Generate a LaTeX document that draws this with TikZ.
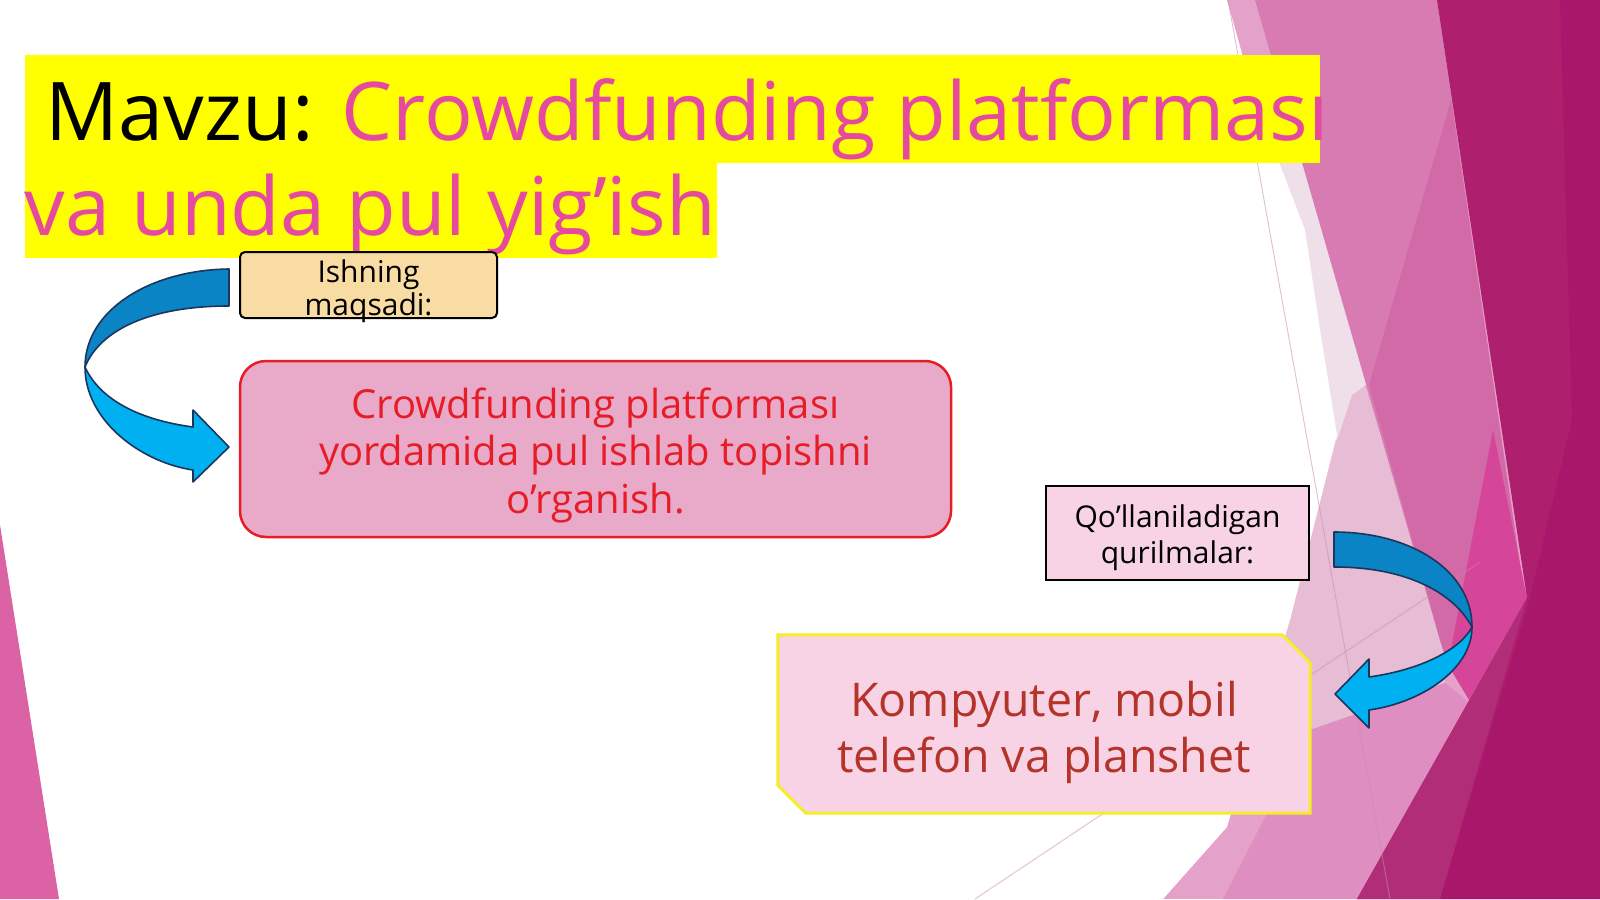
\documentclass[tikz,border=0pt]{standalone}
\usepackage{fontspec}
\setmainfont{Open Sans}
\definecolor{bgbase}{HTML}{E4A2CB}
\definecolor{bglight}{HTML}{E6BDD4}
\definecolor{bgvlight}{HTML}{EFDFE8}
\definecolor{bgmed}{HTML}{D97BB3}
\definecolor{bgsub}{HTML}{D16AA6}
\definecolor{bghot}{HTML}{D5469B}
\definecolor{bglow}{HTML}{DE8EC0}
\definecolor{bgdark}{HTML}{AE1F6E}
\definecolor{bgdarker}{HTML}{A9176B}
\definecolor{bgdm}{HTML}{B12D78}
\definecolor{leftpink}{HTML}{DC62A6}
\definecolor{faintline}{HTML}{C98AAE}
\definecolor{titleyellow}{HTML}{FFFF00}
\definecolor{titlepink}{HTML}{E64AA0}
\definecolor{ishfill}{HTML}{F9DCA4}
\definecolor{mainfill}{HTML}{E8AAC8}
\definecolor{mainred}{HTML}{E61C26}
\definecolor{qofill}{HTML}{F8D3E6}
\definecolor{kompfill}{HTML}{F8D3E5}
\definecolor{kompyellow}{HTML}{F5EC2A}
\definecolor{komptext}{HTML}{B4342A}
\definecolor{arrdark}{HTML}{0A84C4}
\definecolor{arrlight}{HTML}{00B0F0}
\definecolor{arrline}{HTML}{1B365D}
\newcommand{\myfs}[2]{\fontsize{#1}{#2}\selectfont}
\tikzset{
  boxtxt/.style={anchor=base, align=center, inner sep=0pt},
  titletxt/.style={anchor=base west, inner sep=0pt, font=\myfs{81}{94}},
  arrowdarkpart/.style={fill=arrdark, draw=arrline, line width=1.6pt, line join=round},
  arrowlightpart/.style={fill=arrlight, draw=arrline, line width=1.6pt, line join=round},
  faint/.style={draw=faintline, opacity=0.55, line width=0.9pt},
  ishbox/.style={draw=black, line width=2pt, fill=ishfill, rounded corners=5pt, inner sep=0pt},
  mainbox/.style={draw=mainred, line width=2.5pt, fill=mainfill, rounded corners=26pt, inner sep=0pt},
  qobox/.style={draw=black, line width=2.5pt, fill=qofill, inner sep=0pt},
  kompframe/.style={inner sep=0pt, draw=none},
  kompoutline/.style={draw=kompyellow, line width=3pt, fill=kompfill, line join=miter}
}
\begin{document}
\begin{tikzpicture}[x=1pt,y=-1pt]
\useasboundingbox (0,0) rectangle (1600,899);
\fill[white] (0,0) rectangle (1600,899);
% right-hand facets
\fill[bgbase] (1150,0) rectangle (1600,899);
\fill[bglight] (1290,140) -- (1445,645) -- (1445,683) -- (1310,730) -- (1200,760) -- (1200,140) -- cycle;
\fill[bgvlight] (1270,120) -- (1400,120) -- (1400,360) -- (1352,395) -- (1337,440) -- (1200,440) -- (1200,120) -- cycle;
\fill[bgmed] (1255,0) -- (1437,0) -- (1525,598) -- (1448,665) -- (1440,640) -- cycle;
\fill[bgsub] (1451,100) -- (1525,598) -- (1448,665) -- (1440,640) -- (1369,385) -- cycle;
\fill[bghot] (1493,430) -- (1527,598) -- (1469,700) -- (1448,665) -- cycle;
\fill[bglow] (1223,899) -- (1357,899) -- (1470,703) -- (1445,683) -- (1310,730) -- cycle;
\fill[bgdark] (1437,0) -- (1600,0) -- (1600,899) -- (1357,899) -- (1527,598) -- cycle;
\fill[bgdarker] (1560,0) -- (1600,0) -- (1600,899) -- (1440,899) -- (1530,598) -- (1572,420) -- cycle;
\fill[bgdm] (1527,598) -- (1357,899) -- (1440,899) -- cycle;
% white area
\fill[white] (0,0) -- (1227,0) -- (1255,100) -- (1305,230) -- (1320,330) -- (1337,435) -- (1290,620) -- (1227,827) -- (1163,899) -- (0,899) -- cycle;
% left facet
\fill[leftpink] (0,525) -- (59,899) -- (0,899) -- cycle;
% faint lines
\coordinate (fa1) at (1228,0);
\coordinate (fa2) at (1390,899);
\coordinate (fb1) at (975,899);
\coordinate (fb2) at (1480,562);
\draw[faint] (fa1) -- (fa2);
\draw[faint] (fb1) -- (fb2);
% title
\fill[titleyellow] (24.5,55) rectangle (1320,163);
\fill[titleyellow] (24.5,163) rectangle (717,258);
\node[titletxt] (title1) at (24.5,140) {\hspace*{0.26em}Mavzu: \textcolor{titlepink}{Crowdfunding platforması}};
\node[titletxt, text=titlepink] (title2) at (24.5,235) {va unda pul yig’ish};
% boxes
\node[ishbox, minimum width=257pt, minimum height=66pt] (bIsh) at (368.5,285) {};
\node[boxtxt, font=\myfs{30}{33}] (tIsh) at (368.5,315) {Ishning\\maqsadi:};
\node[mainbox, minimum width=711pt, minimum height=176pt] (bMain) at (595.5,449) {};
\node[boxtxt, text=mainred, font=\myfs{40}{47.5}] (tMain) at (595.5,513) {Crowdfunding platforması\\yordamida pul ishlab topishni\\o’rganish.};
\node[qobox, minimum width=263pt, minimum height=94pt] (bQo) at (1177.5,533) {};
\node[boxtxt, font=\myfs{30}{35.5}] (tQo) at (1177.5,563) {Qo’llaniladigan\\qurilmalar:};
\node[kompframe, minimum width=532pt, minimum height=178pt] (bKomp) at (1044,724) {};
\path[kompoutline] (bKomp.north west) -- ([xshift=-28pt]bKomp.north east) -- ([yshift=-28pt]bKomp.north east) -- (bKomp.south east) -- ([xshift=28pt]bKomp.south west) -- ([yshift=28pt]bKomp.south west) -- cycle;
\node[boxtxt, text=komptext, font=\myfs{46.5}{56}] (tKomp) at (1044,772) {Kompyuter, mobil\\telefon va planshet};
% left curved arrow
\path[arrowdarkpart] (229,269) .. controls (150,270) and (85,310) .. (85,367) .. controls (100,330) and (150,306) .. (229,306) -- cycle;
\path[arrowlightpart] (85,367) .. controls (85,420) and (140,462) .. (193,470) -- (193,482) -- (229,447) -- (193,410) -- (193,427) .. controls (140,420) and (100,400) .. (85,367) -- cycle;
% right curved arrow
\path[arrowdarkpart] (1334,532) .. controls (1410,532) and (1472,570) .. (1472,627) .. controls (1455,595) and (1410,567) .. (1334,567) -- cycle;
\path[arrowlightpart] (1472,627) .. controls (1472,670) and (1420,703) .. (1369,710) -- (1369,728) -- (1335,694) -- (1369,659) -- (1369,677) .. controls (1420,670) and (1460,650) .. (1472,627) -- cycle;
\end{tikzpicture}
\end{document}
